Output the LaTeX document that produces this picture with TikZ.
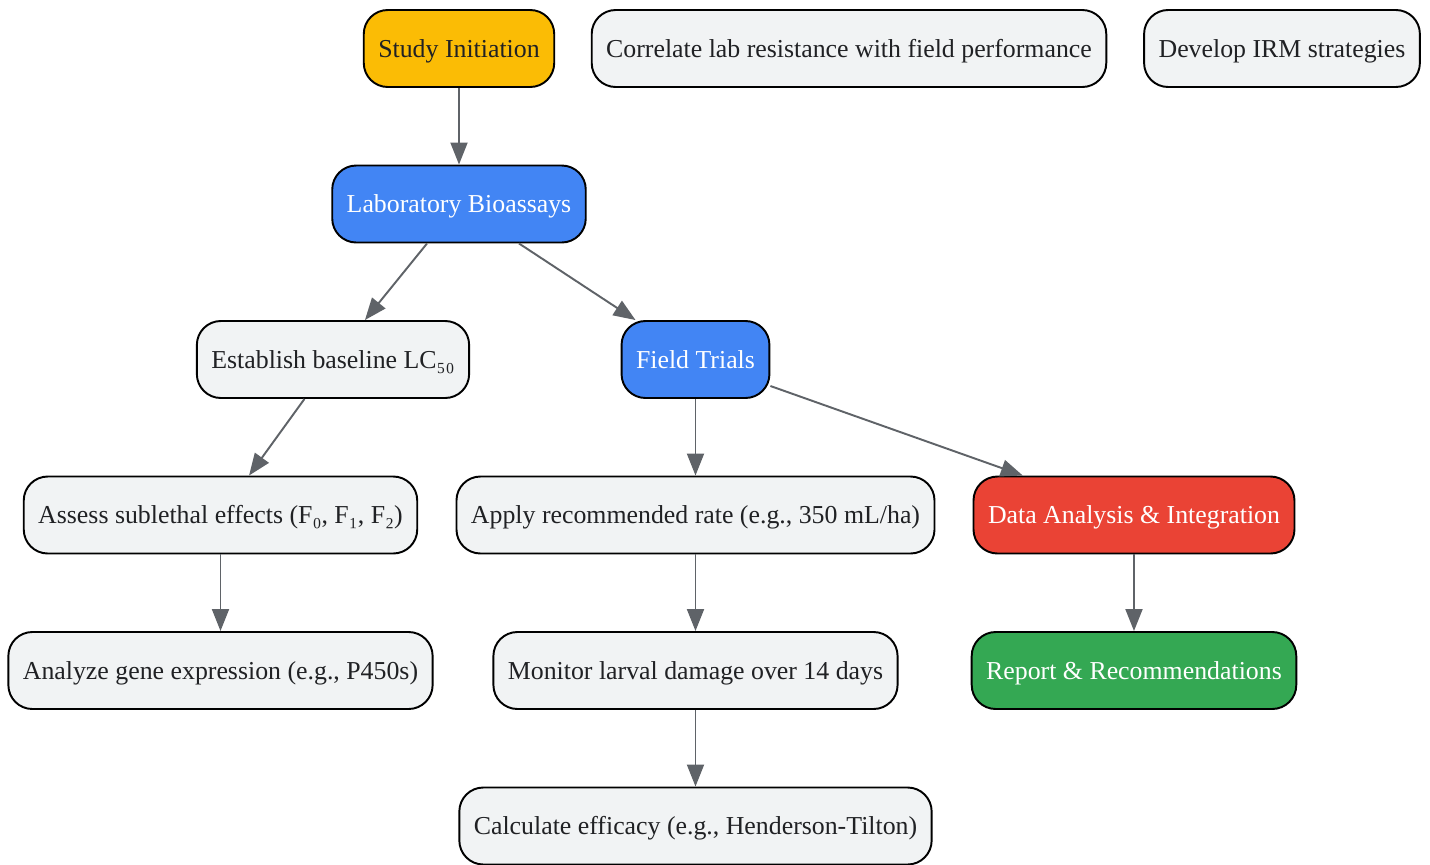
\documentclass[tikz,border=0pt]{standalone}
\usepackage{fontspec}
\setmainfont{Liberation Serif}
\usepackage{tikz}
\usetikzlibrary{shapes.geometric, arrows.meta}
\definecolor{gyellow}{HTML}{FBBC05}
\definecolor{gblue}{HTML}{4285F4}
\definecolor{gred}{HTML}{EA4335}
\definecolor{ggreen}{HTML}{34A853}
\definecolor{ggray}{HTML}{F1F3F4}
\definecolor{gedge}{HTML}{5F6368}
\definecolor{gtext}{HTML}{202124}
\tikzstyle{process} = [rectangle, rounded corners=0.48cm, minimum height=1.54cm, inner xsep=0.29cm, text height=13pt, text depth=3pt, text centered, draw=black, line width=1.1pt, fill=ggray, text=gtext, font=\fontsize{14.7}{17}\selectfont]
\tikzstyle{startbox} = [process, fill=gyellow]
\tikzstyle{phasebox} = [process, fill=gblue, text=white]
\tikzstyle{analysisbox} = [process, fill=gred, text=white]
\tikzstyle{reportbox} = [process, fill=ggreen, text=white]
\tikzstyle{arrow} = [line width=1.1pt, draw=gedge, -{Triangle[length=0.44cm, width=0.34cm, fill=gedge]}]

\begin{document}
\begin{tikzpicture}[node distance=3.11cm]
        \useasboundingbox (-9.18,-16.31) rectangle (19.42,0.97);
        \node (study-initiation) [startbox] {Study Initiation};
        \node (correlate) [process, right of=study-initiation, xshift=4.69cm] {Correlate lab resistance with field performance};
        \node (irm-strategies) [process, right of=correlate, xshift=5.55cm] {Develop IRM strategies};
        \node (lab-bioassays) [phasebox, below of=study-initiation] {Laboratory Bioassays};
        \node (baseline) [process, below of=lab-bioassays, xshift=-2.52cm] {Establish baseline LC₅₀};
        \node (field-trials) [phasebox, below of=lab-bioassays, xshift=4.73cm] {Field Trials};
        \node (sublethal) [process, below of=baseline, xshift=-2.25cm] {Assess sublethal effects (F₀, F₁, F₂)};
        \node (apply-rate) [process, below of=field-trials] {Apply recommended rate (e.g., 350 mL/ha)};
        \node (data-analysis) [analysisbox, below of=field-trials, xshift=8.77cm] {Data Analysis \& Integration};
        \node (gene-expression) [process, below of=sublethal] {Analyze gene expression (e.g., P450s)};
        \node (larval-damage) [process, below of=apply-rate] {Monitor larval damage over 14 days};
        \node (report) [reportbox, below of=data-analysis] {Report \& Recommendations};
        \node (efficacy) [process, below of=larval-damage] {Calculate efficacy (e.g., Henderson-Tilton)};

        \draw [arrow] (study-initiation) -- (lab-bioassays);
        \draw [arrow] (lab-bioassays) -- (baseline);
        \draw [arrow] (lab-bioassays) -- (field-trials);
        \draw [arrow] (baseline) -- (sublethal);
        \draw [arrow] (field-trials) -- (apply-rate);
        \draw [arrow] (field-trials) -- (data-analysis);
        \draw [arrow] (sublethal) -- (gene-expression);
        \draw [arrow] (apply-rate) -- (larval-damage);
        \draw [arrow] (larval-damage) -- (efficacy);
        \draw [arrow] (data-analysis) -- (report);
    \end{tikzpicture}
\end{document}
